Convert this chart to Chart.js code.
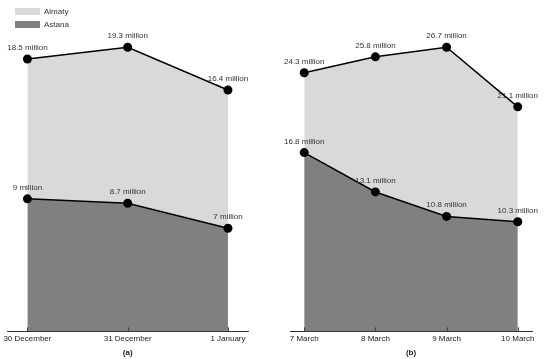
<!DOCTYPE html>
<html>
<head>
<meta charset="utf-8">
<script src="https://cdn.jsdelivr.net/npm/chart.js@4/dist/chart.umd.min.js"></script>
<style>
html,body{margin:0;padding:0;background:#fff;}
#wrap{position:relative;width:550px;height:359px;overflow:hidden;font-family:"Liberation Sans",Arial,sans-serif;}
canvas{position:absolute;top:0;}
#legend{position:absolute;left:15px;top:5px;font-size:8px;color:#333;}
.item{display:flex;align-items:center;height:13px;}
.sw{width:25px;height:7px;margin-right:4px;}
</style>
</head>
<body>
<div id="wrap">
  <canvas id="ca" width="275" height="359" style="left:0;width:275px;height:359px"></canvas>
  <canvas id="cb" width="275" height="359" style="left:275px;width:275px;height:359px"></canvas>
  <div id="legend"></div>
</div>
<script>
// ---- data ----
const seriesNames = ['Almaty', 'Astana'];
const seriesColors = ['#d9d9d9', '#808080'];

const catsA = ['30 December', '31 December', '1 January'];
const almatyA = [18.5, 19.3, 16.4];
const astanaA = [9, 8.7, 7];

const catsB = ['7 March', '8 March', '9 March', '10 March'];
const almatyB = [24.3, 25.8, 26.7, 21.1];
const astanaB = [16.8, 13.1, 10.8, 10.3];

const FONT = '"Liberation Sans", Arial, sans-serif';

// legend
const leg = document.getElementById('legend');
seriesNames.forEach((n, i) => {
  const d = document.createElement('div');
  d.className = 'item';
  d.innerHTML = '<span class="sw" style="background:' + seriesColors[i] + '"></span><span>' + n + '</span>';
  leg.appendChild(d);
});

const labelPlugin = {
  id: 'valLabels',
  afterDatasetsDraw(chart) {
    const ctx = chart.ctx;
    ctx.save();
    ctx.font = '8px ' + FONT;
    ctx.fillStyle = '#333';
    ctx.textAlign = 'center';
    ctx.textBaseline = 'alphabetic';
    chart.data.datasets.forEach((ds, di) => {
      const meta = chart.getDatasetMeta(di);
      meta.data.forEach((pt, i) => {
        ctx.fillText(ds.data[i].y + ' million', pt.x, pt.y - 9);
      });
    });
    ctx.restore();
  },
  afterDraw(chart) {
    const sx = chart.scales.x;
    const ctx = chart.ctx;
    const b = chart.chartArea.bottom;
    ctx.save();
    ctx.strokeStyle = '#444';
    ctx.lineWidth = 1;
    sx.ticks.forEach(t => {
      const x = Math.round(sx.getPixelForValue(t.value)) + 0.5;
      ctx.beginPath();
      ctx.moveTo(x, b - 4);
      ctx.lineTo(x, b);
      ctx.stroke();
    });
    ctx.restore();
  }
};

function makeChart(id, cats, alm, ast, ymax, title, padL, padR) {
  const toPts = arr => arr.map((v, i) => ({x: i, y: v}));
  return new Chart(document.getElementById(id), {
    type: 'line',
    data: {
      datasets: [
        {label: seriesNames[1], data: toPts(ast), fill: 'origin', backgroundColor: seriesColors[1],
         borderColor: '#000', borderWidth: 1.5, pointRadius: 4.5, pointBackgroundColor: '#000',
         pointBorderWidth: 0, tension: 0, order: 0},
        {label: seriesNames[0], data: toPts(alm), fill: 'origin', backgroundColor: seriesColors[0],
         borderColor: '#000', borderWidth: 1.5, pointRadius: 4.5, pointBackgroundColor: '#000',
         pointBorderWidth: 0, tension: 0, order: 1}
      ]
    },
    options: {
      responsive: false,
      animation: false,
      devicePixelRatio: 1,
      layout: {padding: {top: 33, left: padL, right: padR, bottom: 1}},
      plugins: {legend: {display: false}, tooltip: {enabled: false}},
      scales: {
        x: {
          type: 'linear',
          min: -0.2,
          max: cats.length - 1 + 0.2,
          afterBuildTicks: s => { s.ticks = cats.map((c, i) => ({value: i})); },
          ticks: {
            callback: v => cats[v],
            font: {size: 8, family: FONT},
            color: '#222',
            padding: 3,
            maxRotation: 0,
            autoSkip: false
          },
          grid: {display: false, drawTicks: false},
          border: {display: true, color: '#333', width: 1},
          title: {display: true, text: title, font: {size: 8, family: FONT, weight: 'bold'}, color: '#222', padding: {top: 1.5, bottom: 0}}
        },
        y: {display: false, min: 0, max: ymax}
      }
    },
    plugins: [labelPlugin]
  });
}

makeChart('ca', catsA, almatyA, astanaA, 20.27, '(a)', 5, 27);
makeChart('cb', catsB, almatyB, astanaB, 28.04, '(b)', 15, 18);
</script>
</body>
</html>
